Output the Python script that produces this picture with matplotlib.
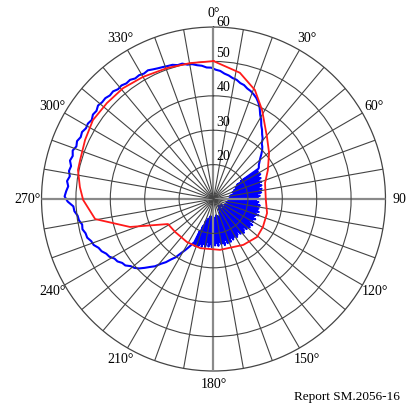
import numpy as np
import matplotlib.pyplot as plt

plt.rcParams['font.family'] = ['Liberation Serif', 'DejaVu Serif']

# Red curve: reference pattern (angle in degrees clockwise from north, level)
red_deg = [0, 11.8, 20.8, 28.6, 40.8, 50.3, 62, 72.7, 90, 104.7, 119.5, 131, 147,
           172.7, 195, 211.6, 229.4, 241.2, 251.5, 260.4, 269.6, 275.1, 282.1,
           286.3, 294.7, 303.2, 312, 320.8, 330, 340.5, 350.2, 360]
red_val = [50.1, 47.5, 43.9, 39.5, 33.8, 31.0, 27.9, 25.7, 25.2, 26.1, 26.5, 26.8, 25.9,
           24.9, 24.8, 24.7, 24.7, 25.1, 35.6, 44.9, 47.9, 49.0, 50.3,
           50.4, 51.1, 51.9, 51.7, 51.6, 51.0, 50.4, 50.1, 50.1]

# Blue curve, outer part: 205 deg round through north to 55 deg, every 2 deg
blue_outer = [24.3, 25.6, 27.0, 28.4, 30.2, 31.4, 33.0, 34.2, 35.9, 37.0,
              38.3, 39.6, 40.5, 41.0, 42.1, 42.4, 43.3, 43.6, 44.6, 45.0,
              45.9, 46.3, 47.3, 47.6, 48.4, 48.5, 49.1, 48.9, 49.6, 49.8,
              50.6, 50.8, 52.4, 53.3, 52.9, 52.4, 52.9, 52.3, 52.8, 52.5,
              53.2, 52.8, 53.3, 52.7, 53.1, 52.6, 52.9, 52.4, 52.6, 52.2,
              52.8, 52.6, 53.2, 52.9, 53.0, 52.6, 52.8, 52.3, 52.5, 52.1,
              52.3, 51.8, 52.0, 51.7, 52.0, 51.6, 51.3, 51.1, 50.9, 50.8,
              50.3, 50.4, 49.8, 49.7, 49.2, 48.9, 48.3, 48.2, 47.6, 47.3,
              46.6, 46.2, 45.6, 45.3, 44.6, 44.3, 43.6, 43.2, 42.6, 41.9,
              40.9, 39.6, 38.0, 36.9, 35.5, 34.6, 33.5, 32.7, 31.4, 30.8,
              30.0, 29.0, 28.0, 27.2, 26.5, 26.1]
blue_outer_start = 205

# Blue curve, spiky part: 56 deg to 204 deg, every 1 deg
blue_spikes = [25.8, 19.5, 25.2, 18.0, 24.9, 20.1, 25.4, 17.2, 24.6, 18.8,
               25.0, 16.5, 24.2, 19.3, 24.8, 15.8, 23.9, 18.1, 24.5, 16.2,
               23.6, 17.4, 24.3, 14.9, 23.2, 18.3, 24.0, 15.5, 22.8, 17.0,
               23.5, 14.6, 22.9, 16.8, 23.8, 15.2, 22.4, 17.5, 23.1, 14.3,
               22.7, 16.1, 23.6, 15.0, 22.5, 17.2, 23.4, 13.8, 22.9, 16.4,
               23.7, 15.3, 22.6, 17.8, 23.9, 14.5, 23.0, 16.9, 22.4, 15.1,
               23.5, 13.6, 22.8, 16.3, 23.3, 15.7, 22.1, 17.3, 23.6, 14.2,
               22.9, 16.6, 23.4, 12.8, 22.3, 15.9, 23.0, 14.7, 21.8, 16.5,
               22.7, 13.9, 23.2, 15.6, 22.0, 17.0, 22.8, 12.5, 21.6, 15.4,
               22.5, 14.1, 23.0, 16.7, 21.9, 13.2, 22.6, 15.8, 23.1, 14.4,
               22.2, 16.9, 23.4, 15.0, 22.7, 17.4, 23.5, 15.6, 22.4, 16.2,
               23.8, 15.1, 22.9, 17.6, 23.3, 14.8, 22.6, 16.7, 23.7, 15.9,
               22.8, 17.1, 23.5, 15.4, 22.9, 16.4, 24.0, 14.9, 23.2, 17.3,
               23.9, 15.7, 22.7, 16.8, 24.1, 15.2, 23.4, 17.7, 24.3, 16.0,
               23.6, 17.9, 24.4, 16.6, 23.8, 18.4, 24.7, 20.2, 24.0]
blue_spikes_start = 56

ring_values = [20, 30, 40, 50, 60]
angle_labels = ['0°', '30°', '60°', '90', '120°', '150°', '180°',
                '210°', '240°', '270°', '300°', '330°']

fig = plt.figure(figsize=(4.09, 4.08), dpi=100)
ax = fig.add_axes([0.1015, 0.0907, 0.841, 0.843], projection='polar')
ax.set_theta_zero_location('N')
ax.set_theta_direction(-1)
ax.set_rlim(10, 60)

# build blue trace
outer_deg = blue_outer_start + 2 * np.arange(len(blue_outer))
spike_deg = blue_spikes_start + 360 + np.arange(len(blue_spikes))
blue_deg = np.concatenate([outer_deg, spike_deg])
blue_val = np.concatenate([blue_outer, blue_spikes])

ax.plot(np.deg2rad(blue_deg), blue_val, color='#0000ff', lw=1.5, zorder=2)
ax.plot(np.deg2rad(red_deg), red_val, color='#ff1a1a', lw=1.3, zorder=3)

# grid
tick_deg = np.arange(0, 360, 10)
ax.set_thetagrids(tick_deg, [angle_labels[i // 3] if i % 3 == 0 else '' for i in range(36)])
ax.set_rgrids(ring_values[:-1], labels=[''] * 4)
ax.set_axisbelow(False)
ax.grid(True, color='#444444', lw=0.8)
for i, gl in enumerate(ax.xaxis.get_gridlines()):
    if i % 9 == 0:
        gl.set_color('#8a8a8a')
        gl.set_linewidth(1.6)
ax.spines['polar'].set_color('#444444')
ax.spines['polar'].set_linewidth(0.9)
ax.tick_params(axis='x', labelsize=10, pad=-0.5)

for v in ring_values:
    dy = 5 if v == 60 else 8
    ax.annotate(str(v), xy=(0, v), xytext=(10, dy), textcoords='offset pixels',
                ha='center', va='center', fontsize=10, zorder=5)

fig.text(0.978, 0.027, 'Report SM.2056-16', ha='right', va='center', fontsize=9.5)

fig.savefig('out.png', dpi=100)
